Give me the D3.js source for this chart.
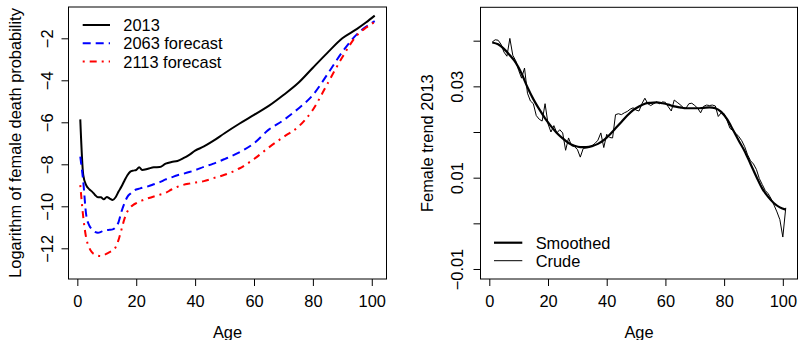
<!DOCTYPE html>
<html><head><meta charset="utf-8">
<script src="https://cdn.jsdelivr.net/npm/d3@7"></script>
<style>
body{margin:0;background:#fff}
svg{display:block}
text{font-family:"Liberation Sans",Arial,Helvetica,sans-serif;font-size:16.4px;fill:#000}
</style>
</head><body>
<svg id="c" width="798" height="340"></svg>
<script>
// ---------- Left panel data ----------
const leftAges = [1,2,3,4,5,6,7,8,9,10,11,12,13,14,15,16,17,18,19,20,21,22,24,26,28,30,32,34,36,38,40,43,46,50,55,60,65,70,75,80,85,90,95,98,101];
const female2013 = [-5.86,-8.5,-8.99,-9.18,-9.3,-9.46,-9.57,-9.57,-9.67,-9.56,-9.63,-9.7,-9.57,-9.3,-9.06,-8.78,-8.52,-8.35,-8.3,-8.27,-8.14,-8.27,-8.21,-8.14,-8.13,-7.97,-7.89,-7.84,-7.71,-7.55,-7.35,-7.15,-6.9,-6.52,-6.07,-5.65,-5.22,-4.7,-4.13,-3.4,-2.68,-2.0,-1.55,-1.25,-0.92];
const forecast2063 = [-7.64,-8.8,-10.4,-10.9,-11.1,-11.22,-11.26,-11.22,-11.15,-11.13,-11.12,-11.1,-11.0,-10.75,-10.25,-9.85,-9.55,-9.4,-9.28,-9.2,-9.16,-9.12,-9.05,-8.95,-8.85,-8.72,-8.62,-8.52,-8.45,-8.37,-8.28,-8.12,-7.98,-7.75,-7.43,-7.0,-6.35,-5.9,-5.35,-4.7,-3.7,-2.65,-1.8,-1.45,-1.18];
const forecast2113 = [-8.99,-10.5,-11.5,-11.95,-12.2,-12.3,-12.35,-12.37,-12.33,-12.25,-12.18,-12.1,-11.95,-11.6,-11.1,-10.6,-10.25,-10.05,-9.93,-9.85,-9.78,-9.72,-9.62,-9.53,-9.45,-9.36,-9.2,-9.07,-8.98,-8.92,-8.87,-8.8,-8.67,-8.5,-8.2,-7.75,-7.2,-6.7,-6.22,-5.4,-4.15,-2.9,-1.85,-1.5,-1.22];
const leftXTicks = [0,20,40,60,80,100];
const leftYTicks = [-12,-10,-8,-6,-4,-2];
const leftLegend = ["2013","2063 forecast","2113 forecast"];

// ---------- Right panel data ----------
const crudeAges = [1,2,3,4,5,6,7,8,9,10,11,12,13,14,15,16,17,18,19,20,21,22,23,24,25,26,27,28,29,30,31,32,33,34,35,36,37,38,39,40,41,42,43,44,45,46,47,48,49,50,51,52,53,54,55,56,57,58,59,60,61,62,63,64,65,66,67,68,69,70,71,72,73,74,75,76,77,78,79,80,81,82,83,84,85,86,87,88,89,90,91,92,93,94,95,96,97,98,99,100,101];
const crudeTrend = [0.0397,0.0402,0.0401,0.0392,0.0375,0.0366,0.0405,0.0368,0.0356,0.0335,0.0318,0.034,0.0285,0.0268,0.0262,0.0236,0.0228,0.0224,0.0262,0.0218,0.02,0.0214,0.0198,0.0205,0.0198,0.016,0.0187,0.017,0.0168,0.0162,0.0145,0.0164,0.0165,0.0166,0.017,0.0175,0.0182,0.0198,0.0166,0.0195,0.0188,0.0187,0.0238,0.024,0.0238,0.0242,0.0245,0.025,0.0253,0.0248,0.0246,0.0262,0.0274,0.0262,0.0258,0.0262,0.0266,0.0262,0.0266,0.0265,0.0255,0.0246,0.027,0.0265,0.026,0.0254,0.0252,0.0262,0.0263,0.0258,0.0252,0.0242,0.0256,0.0259,0.0258,0.0259,0.0257,0.0234,0.0242,0.024,0.0225,0.0208,0.0203,0.0197,0.019,0.0181,0.0168,0.015,0.0137,0.013,0.0118,0.0098,0.0085,0.0072,0.0065,0.0054,0.004,0.0025,0.0008,-0.003,0.0034];
const smoothAges = [1,3,5,7,9,11,13,15,17,19,21,23,25,27,29,31,33,35,37,39,41,43,45,47,49,51,53,55,57,59,61,63,65,67,69,71,73,75,77,79,81,83,85,87,89,91,93,95,97,99,101];
const smoothTrend = [0.0396,0.0392,0.0382,0.0368,0.0352,0.0328,0.0298,0.0272,0.025,0.023,0.0213,0.0198,0.0186,0.0176,0.017,0.0167,0.0167,0.0169,0.0174,0.0182,0.0194,0.0208,0.0222,0.0236,0.0248,0.0256,0.0262,0.0264,0.0265,0.0263,0.026,0.0256,0.0254,0.0252,0.0252,0.0252,0.0253,0.0254,0.0252,0.0244,0.0228,0.0205,0.0181,0.0158,0.013,0.0102,0.0076,0.0058,0.0044,0.0035,0.003];
const rightXTicks = [0,20,40,60,80,100];
const rightYTicks = [-0.01,0,0.01,0.02,0.03,0.04];
const rightYLabelled = [-0.01,0.01,0.03];
const rightLegend = ["Smoothed","Crude"];

const svg = d3.select("#c");
const FS = "16.4px";
const fmtMinus = v => (v < 0 ? "\u2212" : "") + Math.abs(v);

function panel(cfg){
  const g = svg.append("g");
  const x = d3.scaleLinear().domain([-3,105]).range([cfg.x0, cfg.x1]);
  const y = d3.scaleLinear().domain(cfg.ydom).range([cfg.y1, cfg.y0]);
  g.append("rect").attr("x",cfg.x0).attr("y",cfg.y0)
    .attr("width",cfg.x1-cfg.x0).attr("height",cfg.y1-cfg.y0)
    .attr("fill","none").attr("stroke","#000").attr("stroke-width",1);
  const ax = g.append("g").attr("transform",`translate(0,${cfg.y1})`)
    .call(d3.axisBottom(x).tickValues(cfg.xticks).tickSize(7).tickFormat(d=>d));
  ax.select(".domain").remove();
  ax.attr("font-family",null).attr("font-size",null);
  ax.selectAll("line").attr("stroke","#000");
  ax.selectAll("text").attr("y",22).attr("dy","0.35em").style("font-size",FS);
  const ay = g.append("g").attr("transform",`translate(${cfg.x0},0)`)
    .call(d3.axisLeft(y).tickValues(cfg.yticks).tickSize(7).tickFormat(cfg.yfmt));
  ay.select(".domain").remove();
  ay.attr("font-family",null).attr("font-size",null);
  ay.selectAll("line").attr("stroke","#000");
  ay.selectAll("text").attr("x",null).attr("dy",null)
    .attr("transform",`translate(${cfg.ylabX - cfg.x0},0) rotate(-90)`)
    .attr("text-anchor","middle").attr("dominant-baseline","central").style("font-size",FS);
  g.append("text").attr("x",(cfg.x0+cfg.x1)/2).attr("y",331.5)
    .attr("text-anchor","middle").attr("dominant-baseline","central").text("Age");
  g.append("text").attr("transform",`translate(${cfg.ytitleX},${(cfg.y0+cfg.y1)/2}) rotate(-90)`)
    .attr("text-anchor","middle").attr("dominant-baseline","central").text(cfg.ytitle);
  return {g,x,y};
}

// ---------- Left panel ----------
const L = panel({x0:68.5,x1:386.5,y0:7,y1:279,ydom:[-13.462,-0.509],
  xticks:leftXTicks,yticks:leftYTicks,yfmt:fmtMinus,ylabX:46.7,ytitleX:15,
  ytitle:"Logarithm of female death probability"});
const leftSeries = [
  {vals:female2013,color:"#000",dash:null,w:2},
  {vals:forecast2063,color:"#0000FF",dash:"8,5",w:2},
  {vals:forecast2113,color:"#FF0000",dash:"2,5,7,5",w:2}
];
leftSeries.forEach(s=>{
  const line = d3.line().x((d,i)=>L.x(leftAges[i])).y(d=>L.y(d)).curve(d3.curveMonotoneX);
  L.g.append("path").datum(s.vals).attr("d",line).attr("fill","none")
    .attr("stroke",s.color).attr("stroke-width",s.w)
    .attr("stroke-dasharray",s.dash).attr("stroke-linejoin","round");
});
leftSeries.forEach((s,i)=>{
  const yy = 25 + i*18.3;
  L.g.append("line").attr("x1",82.7).attr("x2",110).attr("y1",yy).attr("y2",yy)
    .attr("stroke",s.color).attr("stroke-width",s.w).attr("stroke-dasharray",s.dash);
  L.g.append("text").attr("x",123.3).attr("y",yy).attr("dominant-baseline","central").text(leftLegend[i]);
});

// ---------- Right panel ----------
const R = panel({x0:480.5,x1:797.5,y0:7.3,y1:279,ydom:[-0.01219,0.04731],
  xticks:rightXTicks,yticks:rightYTicks,
  yfmt:d=>rightYLabelled.some(v=>Math.abs(v-d)<1e-9)?(d<0?"\u2212":"")+Math.abs(d).toFixed(2):"",
  ylabX:456.7,ytitleX:426.5,ytitle:"Female trend 2013"});
const crudeLine = d3.line().x((d,i)=>R.x(crudeAges[i])).y(d=>R.y(d));
R.g.append("path").datum(crudeTrend).attr("d",crudeLine).attr("fill","none")
  .attr("stroke","#000").attr("stroke-width",1).attr("stroke-linejoin","round");
const smoothLine = d3.line().x((d,i)=>R.x(smoothAges[i])).y(d=>R.y(d)).curve(d3.curveMonotoneX);
R.g.append("path").datum(smoothTrend).attr("d",smoothLine).attr("fill","none")
  .attr("stroke","#000").attr("stroke-width",2.2).attr("stroke-linejoin","round");
[{w:2.2},{w:1}].forEach((s,i)=>{
  const yy = 242.7 + i*18;
  R.g.append("line").attr("x1",494).attr("x2",522.3).attr("y1",yy).attr("y2",yy)
    .attr("stroke","#000").attr("stroke-width",s.w);
  R.g.append("text").attr("x",535.7).attr("y",yy).attr("dominant-baseline","central").text(rightLegend[i]);
});
</script>
</body></html>
